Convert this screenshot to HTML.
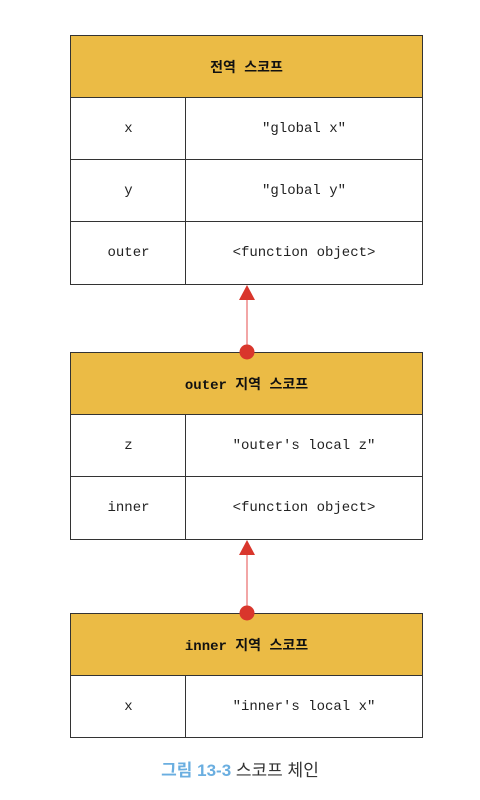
<!DOCTYPE html>
<html><head><meta charset="utf-8"><style>
body{margin:0;width:480px;height:800px;background:#fff;position:relative;overflow:hidden;font-family:"Liberation Mono","Noto Sans CJK KR",monospace;}
.b{position:absolute;box-sizing:border-box;border:1.5px solid #333;}
.h{background:#EBBB45;display:flex;align-items:center;justify-content:center;font-weight:bold;font-size:14px;color:#111;}
.c{display:flex;align-items:center;justify-content:center;font-size:14px;color:#222;background:#fff;}
.cap{position:absolute;top:756px;left:0;width:480px;text-align:center;font-family:"Liberation Sans","Noto Sans CJK KR",sans-serif;font-size:17px;}
</style></head><body>
<div class="b h" style="left:70px;top:35px;width:353px;height:64px">전역 스코프</div>
<div class="b c" style="left:70px;top:97px;width:117px;height:64px">x</div>
<div class="b c" style="left:185px;top:97px;width:238px;height:64px">"global x"</div>
<div class="b c" style="left:70px;top:159px;width:117px;height:64px">y</div>
<div class="b c" style="left:185px;top:159px;width:238px;height:64px">"global y"</div>
<div class="b c" style="left:70px;top:221px;width:117px;height:64px">outer</div>
<div class="b c" style="left:185px;top:221px;width:238px;height:64px">&lt;function object&gt;</div>

<div class="b h" style="left:70px;top:352px;width:353px;height:64px">outer 지역 스코프</div>
<div class="b c" style="left:70px;top:414px;width:117px;height:64px">z</div>
<div class="b c" style="left:185px;top:414px;width:238px;height:64px">"outer's local z"</div>
<div class="b c" style="left:70px;top:476px;width:117px;height:64px">inner</div>
<div class="b c" style="left:185px;top:476px;width:238px;height:64px">&lt;function object&gt;</div>

<div class="b h" style="left:70px;top:613px;width:353px;height:64px">inner 지역 스코프</div>
<div class="b c" style="left:70px;top:675px;width:117px;height:63px">x</div>
<div class="b c" style="left:185px;top:675px;width:238px;height:63px">"inner's local x"</div>

<svg style="position:absolute;left:0;top:0" width="480" height="800">
<line x1="247" y1="298" x2="247" y2="352" stroke="#e88" stroke-width="1.5"/>
<polygon points="247,285 239,300 255,300" fill="#d9362c"/>
<circle cx="247" cy="352" r="7.5" fill="#d9362c"/>
<line x1="247" y1="553" x2="247" y2="613" stroke="#e88" stroke-width="1.5"/>
<polygon points="247,540 239,555 255,555" fill="#d9362c"/>
<circle cx="247" cy="613" r="7.5" fill="#d9362c"/>
</svg>
<div class="cap"><span style="color:#6aaee0;font-weight:bold">그림 13-3</span> <span style="color:#333">스코프 체인</span></div>
</body></html>
